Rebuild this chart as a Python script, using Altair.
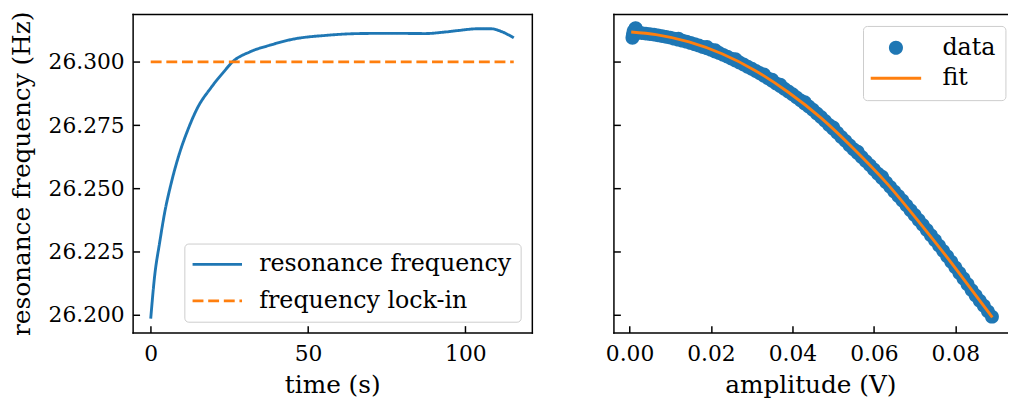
import altair as alt
import pandas as pd

# ---------------- data ----------------
# left panel: resonance frequency vs time
time_s = [0.0, 1.26, 2.83, 4.4, 6.5, 9.1, 11.7, 14.9, 19.1, 23.3, 26.0, 31.6,
          37.9, 45.3, 55.8, 66.2, 76.7, 87.2, 93.5, 97.7, 104.0, 108.2, 111.3, 115.4]
res_freq = [26.1985, 26.2155, 26.2285, 26.2402, 26.2520, 26.2637, 26.2728, 26.2819,
            26.2897, 26.2962, 26.3000, 26.3040, 26.3066, 26.3090, 26.3105, 26.3112,
            26.3113, 26.3112, 26.3118, 26.3124, 26.3131, 26.3131, 26.3121, 26.3095]
lock_time = [0.0, 115.4]
lock_freq = [26.300, 26.300]

# right panel: frequency vs amplitude (measured points)
amp_data = [0.0007, 0.0008, 0.0009, 0.0010, 0.0011, 0.0012, 0.0013, 0.0014, 0.0015, 0.0016,
            0.0010, 0.0012,
            0.002, 0.003, 0.004, 0.005, 0.006, 0.007, 0.008, 0.009, 0.010,
            0.011, 0.012, 0.013, 0.014, 0.015, 0.016, 0.017, 0.018, 0.019, 0.020,
            0.021, 0.022, 0.023, 0.024, 0.025, 0.026, 0.027, 0.028, 0.029, 0.030,
            0.031, 0.032, 0.033, 0.034, 0.035, 0.036, 0.037, 0.038, 0.039, 0.040,
            0.041, 0.042, 0.043, 0.044, 0.045, 0.046, 0.047, 0.048, 0.049, 0.050,
            0.051, 0.052, 0.053, 0.054, 0.055, 0.056, 0.057, 0.058, 0.059, 0.060,
            0.061, 0.062, 0.063, 0.064, 0.065, 0.066, 0.067, 0.068, 0.069, 0.070,
            0.071, 0.072, 0.073, 0.074, 0.075, 0.076, 0.077, 0.078, 0.079, 0.080,
            0.081, 0.082, 0.083, 0.084, 0.085, 0.086, 0.087, 0.088, 0.089,
            0.012, 0.019, 0.021, 0.026, 0.033, 0.035, 0.037, 0.043, 0.050, 0.056, 0.062]
freq_data = [26.3095, 26.3103, 26.3110, 26.3113, 26.3112, 26.3118, 26.3124, 26.3131, 26.3133, 26.3128,
             26.3121, 26.3108,
             26.3116, 26.3114, 26.3112, 26.3110, 26.3108, 26.3105, 26.3102, 26.3099, 26.3096,
             26.3092, 26.3088, 26.3084, 26.3080, 26.3075, 26.3070, 26.3065, 26.3059, 26.3054, 26.3048,
             26.3041, 26.3035, 26.3028, 26.3021, 26.3013, 26.3006, 26.2998, 26.2990, 26.2981, 26.2973,
             26.2964, 26.2955, 26.2945, 26.2935, 26.2925, 26.2915, 26.2905, 26.2894, 26.2883, 26.2872,
             26.2860, 26.2848, 26.2836, 26.2824, 26.2811, 26.2796, 26.2782, 26.2767, 26.2751, 26.2736,
             26.2720, 26.2703, 26.2688, 26.2671, 26.2655, 26.2640, 26.2624, 26.2608, 26.2592, 26.2575,
             26.2558, 26.2541, 26.2524, 26.2506, 26.2488, 26.2470, 26.2452, 26.2433, 26.2414, 26.2395,
             26.2375, 26.2356, 26.2336, 26.2315, 26.2295, 26.2274, 26.2253, 26.2232, 26.2210, 26.2188,
             26.2166, 26.2144, 26.2121, 26.2098, 26.2077, 26.2056, 26.2036, 26.2014, 26.1993,
             26.3092, 26.3059, 26.3046, 26.3011, 26.2950, 26.2930, 26.2910, 26.2841, 26.2741, 26.2645, 26.2546]

# right panel: fitted curve
amp_fit = [0.0004, 0.0065, 0.0146, 0.0227, 0.0308, 0.0389, 0.0470, 0.0551, 0.0632,
           0.0713, 0.0794, 0.0842, 0.0891]
freq_fit = [26.3118, 26.3108, 26.3079, 26.3032, 26.2966, 26.2881, 26.2779, 26.2656, 26.2520,
            26.2363, 26.2198, 26.2095, 26.1990]

y_ticks = [26.200, 26.225, 26.250, 26.275, 26.300]
time_ticks = [0, 50, 100]
amp_ticks = [0.00, 0.02, 0.04, 0.06, 0.08]

left_series = ["resonance frequency", "frequency lock-in"]
right_series = ["data", "fit"]

# ---------------- styling ----------------
FONT = "DejaVu Serif"
BLUE = "#1f77b4"
ORANGE = "#ff7f0e"
Y_DOMAIN = [26.1930, 26.3189]
T_DOMAIN = [-5.75, 121.15]
A_DOMAIN = [-0.00396, 0.09279]
INWARD = alt.ExprRef(expr="-7")

CIRCLE = "M0.71,0A0.71,0.71,0,1,1,-0.71,0A0.71,0.71,0,1,1,0.71,0Z"
LINE_SYM = "M-2.55,-0.15H2.55V0.15H-2.55Z"

AXIS_STYLE = dict(tickWidth=1.5, tickColor="black", grid=False, labelFont=FONT,
                  labelFontSize=22, labelColor="black", titleFont=FONT, titleFontSize=25,
                  titleFontWeight="normal", titleColor="black", minExtent=0,
                  domainColor="black", domainWidth=1.5, domainCap="square")

x_time_axis = alt.Axis(orient="bottom", values=time_ticks, format="d", title="time (s)",
                       tickSize=INWARD, labelPadding=18, titlePadding=9, domain=True,
                       **AXIS_STYLE)
y_left_axis = alt.Axis(orient="left", values=y_ticks, format=".3f",
                       title="resonance frequency (Hz)", tickSize=INWARD, labelPadding=15.5,
                       titlePadding=13.5, domain=True, **AXIS_STYLE)
x_amp_axis = alt.Axis(orient="bottom", values=amp_ticks, format=".2f", title="amplitude (V)",
                      tickSize=INWARD, labelPadding=18, titlePadding=9, domain=True,
                      **AXIS_STYLE)
# right panel y axis: inward ticks only (its spine comes from left_spine below)
y_right_axis = alt.Axis(orient="left", values=y_ticks, labels=False, title=None,
                        tickSize=INWARD, domain=False, **AXIS_STYLE)
# plain spines without ticks or labels
top_spine = alt.Axis(orient="top", labels=False, ticks=False, title=None, domain=True,
                     **AXIS_STYLE)
right_spine = alt.Axis(orient="right", labels=False, ticks=False, title=None, domain=True,
                       **AXIS_STYLE)
left_spine = alt.Axis(orient="left", labels=False, ticks=False, title=None, domain=True,
                      **AXIS_STYLE)

legend_common = dict(title=None, orient="none", labelFont=FONT, labelFontSize=24,
                     labelColor="black", labelLimit=500, fillColor="rgba(255,255,255,0.8)",
                     strokeColor="#cccccc", cornerRadius=4)

left_legend = alt.Legend(legendX=52.3, legendY=232, symbolType="M-2.5,0H2.5",
                         symbolSize=400, symbolStrokeWidth=2.9, labelOffset=30.4,
                         symbolOffset=12.3, rowPadding=13, padding=9, **legend_common)
right_legend = alt.Legend(legendX=252.3, legendY=12, symbolSize=400, symbolStrokeWidth=0,
                          labelOffset=35, symbolOffset=11.3, rowPadding=6.9, padding=10,
                          **legend_common)

# ---------------- left panel ----------------
res_df = pd.DataFrame({"time": time_s, "freq": res_freq,
                       "series": [left_series[0]] * len(time_s)})
lock_df = pd.DataFrame({"time": lock_time, "freq": lock_freq,
                        "series": [left_series[1]] * len(lock_time)})

t_scale = alt.Scale(domain=T_DOMAIN, nice=False, zero=False)
f_scale = alt.Scale(domain=Y_DOMAIN, nice=False, zero=False)
left_color = alt.Color("series:N", scale=alt.Scale(domain=left_series, range=[BLUE, ORANGE]),
                       legend=left_legend)
left_dash = alt.StrokeDash("series:N",
                           scale=alt.Scale(domain=left_series, range=[[1, 0], [11, 4.8]]),
                           legend=left_legend)

res_line = alt.Chart(res_df).mark_line(strokeWidth=2.9, interpolate="monotone").encode(
    x=alt.X("time:Q", scale=t_scale, axis=x_time_axis),
    y=alt.Y("freq:Q", scale=f_scale, axis=y_left_axis),
    color=left_color, strokeDash=left_dash,
)
lock_line = alt.Chart(lock_df).mark_line(strokeWidth=2.9).encode(
    x=alt.X("time:Q", scale=t_scale, axis=top_spine),
    y=alt.Y("freq:Q", scale=f_scale, axis=right_spine),
    color=left_color, strokeDash=left_dash,
)
left = alt.layer(res_line, lock_line).resolve_axis(x="independent", y="independent").properties(
    width=403.6, height=322
)

# ---------------- right panel ----------------
scatter_df = pd.DataFrame({"amp": amp_data, "freq": freq_data, "series": ["data"] * len(amp_data)})
fit_df = pd.DataFrame({"amp": amp_fit, "freq": freq_fit})

a_scale = alt.Scale(domain=A_DOMAIN, nice=False, zero=False)

scatter = alt.Chart(scatter_df).mark_point(filled=True, size=390, opacity=1, strokeWidth=0).encode(
    x=alt.X("amp:Q", scale=a_scale, axis=x_amp_axis),
    y=alt.Y("freq:Q", scale=f_scale, axis=y_right_axis),
    color=alt.Color("series:N", scale=alt.Scale(domain=right_series, range=[BLUE, ORANGE]),
                    legend=right_legend),
    shape=alt.Shape("series:N", scale=alt.Scale(domain=right_series, range=[CIRCLE, LINE_SYM]),
                    legend=right_legend),
)
fit = alt.Chart(fit_df).mark_line(strokeWidth=2.9, color=ORANGE, interpolate="monotone").encode(
    x=alt.X("amp:Q", scale=a_scale, axis=top_spine),
    y=alt.Y("freq:Q", scale=f_scale, axis=left_spine),
)
right = alt.layer(scatter, fit).resolve_axis(x="independent", y="independent").properties(
    width=398.3, height=322
)

chart = alt.hconcat(left, right, spacing=73.1).resolve_scale(
    color="independent", shape="independent", strokeDash="independent"
).resolve_legend(
    color="independent", shape="independent", strokeDash="independent"
).properties(
    padding={"left": 2, "top": 0, "right": 0, "bottom": 0}
).configure(
    font=FONT, background="white"
).configure_view(
    stroke="transparent", strokeWidth=0
)

chart.save("out.html", embed_options={"renderer": "svg", "actions": False})
